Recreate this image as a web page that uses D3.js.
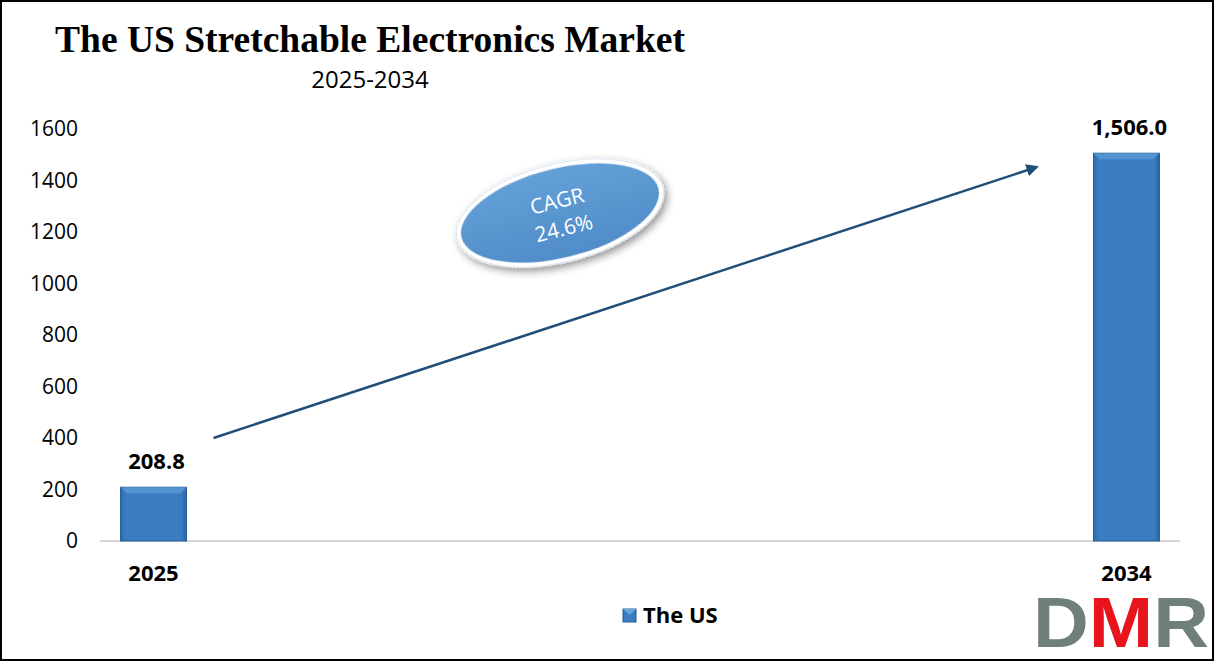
<!DOCTYPE html>
<html>
<head>
<meta charset="utf-8">
<script src="https://cdn.jsdelivr.net/npm/d3@7"></script>
<style>
  body { margin: 0; background: #fff; }
  svg { display: block; }
</style>
</head>
<body>
<svg id="svg" width="1216" height="663"></svg>
<script>
// data
const years = ['2025', '2034'];
const values = [208.8, 1506.0];
const valueLabels = ['208.8', '1,506.0'];
const yTicks = [0, 200, 400, 600, 800, 1000, 1200, 1400, 1600];
const seriesName = 'The US';
const cagrText = ['CAGR', '24.6%'];

const svg = d3.select('#svg');
const font = '"Open Sans", "Noto Sans", sans-serif';

const margin = { top: 129, left: 100, right: 36, bottom: 122 };
const width = 1216 - margin.left - margin.right;   // 1080
const height = 663 - margin.top - margin.bottom;   // 412

const x = d3.scalePoint().domain(years).range([0, width]).padding(0.055);
const y = d3.scaleLinear().domain([0, 1600]).range([height, 0]);
const barWidth = 66;

// defs: gradients, shadow, arrow
const defs = svg.append('defs');
const bg = defs.append('linearGradient').attr('id', 'barGrad').attr('x1', 0).attr('x2', 1).attr('y1', 0).attr('y2', 0);
bg.append('stop').attr('offset', '0%').attr('stop-color', '#2f6aa8');
bg.append('stop').attr('offset', '8%').attr('stop-color', '#3a7dc2');
bg.append('stop').attr('offset', '92%').attr('stop-color', '#3a7dc2');
bg.append('stop').attr('offset', '100%').attr('stop-color', '#2b629c');

const eg = defs.append('linearGradient').attr('id', 'ellGrad').attr('x1', 0).attr('x2', 0).attr('y1', 0).attr('y2', 1);
eg.append('stop').attr('offset', '0%').attr('stop-color', '#64a0d8');
eg.append('stop').attr('offset', '100%').attr('stop-color', '#4f8cc8');

const sh = defs.append('filter').attr('id', 'shadow').attr('x', '-30%').attr('y', '-30%').attr('width', '160%').attr('height', '160%');
sh.append('feGaussianBlur').attr('in', 'SourceAlpha').attr('stdDeviation', 4).attr('result', 'b');
sh.append('feOffset').attr('in', 'b').attr('dx', 2).attr('dy', 4).attr('result', 'o');
sh.append('feComponentTransfer').attr('in', 'o').attr('result', 'o2')
  .append('feFuncA').attr('type', 'linear').attr('slope', 0.45);
const mg = sh.append('feMerge');
mg.append('feMergeNode').attr('in', 'o2');
mg.append('feMergeNode').attr('in', 'SourceGraphic');

defs.append('marker').attr('id', 'arrow')
  .attr('viewBox', '0 0 10 10').attr('refX', 8).attr('refY', 5)
  .attr('markerWidth', 5).attr('markerHeight', 5).attr('orient', 'auto')
  .append('path').attr('d', 'M0,0 L10,5 L0,10 Z').attr('fill', '#1f4e79');

// title
svg.append('text').attr('x', 55).attr('y', 52)
  .attr('font-family', '"Liberation Serif", "Times New Roman", serif')
  .attr('font-weight', 'bold').attr('font-size', 38).attr('fill', '#000')
  .attr('textLength', 630).attr('lengthAdjust', 'spacingAndGlyphs')
  .text('The US Stretchable Electronics Market');
svg.append('text').attr('x', 370).attr('y', 88).attr('text-anchor', 'middle')
  .attr('font-family', font).attr('font-size', 24).attr('fill', '#000')
  .text('2025-2034');

const g = svg.append('g').attr('transform', `translate(${margin.left},${margin.top})`);

// y axis (no line, no ticks)
const yAxis = d3.axisLeft(y).tickValues(yTicks).tickSize(0).tickPadding(22).tickFormat(d3.format('d'));
g.append('g').call(yAxis)
  .call(a => a.select('.domain').remove())
  .call(a => a.selectAll('text').attr('font-family', font).attr('font-size', 21).attr('fill', '#000'));

// baseline
g.append('line').attr('x1', 0).attr('x2', width).attr('y1', y(0)).attr('y2', y(0))
  .attr('stroke', '#c8c8c8').attr('stroke-width', 1.5);

// bars
g.selectAll('rect.bar').data(values).enter().append('rect')
  .attr('class', 'bar')
  .attr('x', (d, i) => x(years[i]) - barWidth / 2)
  .attr('width', barWidth)
  .attr('y', d => y(d))
  .attr('height', d => y(0) - y(d))
  .attr('fill', 'url(#barGrad)')
  .attr('stroke', '#2a5f96').attr('stroke-width', 1);

// bar top bevel highlight
g.selectAll('path.bevel').data(values).enter().append('path')
  .attr('class', 'bevel')
  .attr('d', (d, i) => {
    const x0 = x(years[i]) - barWidth / 2, x1 = x0 + barWidth, y0 = y(d);
    return `M${x0},${y0} L${x1},${y0} L${x1 - 6},${y0 + 6} L${x0 + 6},${y0 + 6} Z`;
  })
  .attr('fill', '#5d9ad6').attr('opacity', 0.8);

// value labels
g.selectAll('text.val').data(values).enter().append('text')
  .attr('class', 'val')
  .attr('x', (d, i) => x(years[i]) + 3)
  .attr('y', d => y(d) - 18)
  .attr('text-anchor', 'middle')
  .attr('font-family', font).attr('font-weight', 'bold').attr('font-size', 22).attr('fill', '#000')
  .text((d, i) => valueLabels[i]);

// x labels
g.selectAll('text.xl').data(years).enter().append('text')
  .attr('class', 'xl')
  .attr('x', d => x(d)).attr('y', y(0) + 40)
  .attr('text-anchor', 'middle')
  .attr('font-family', font).attr('font-weight', 'bold').attr('font-size', 22).attr('fill', '#000')
  .text(d => d);

// CAGR arrow
g.append('line')
  .attr('x1', x(years[0]) + 60).attr('y1', y(400))
  .attr('x2', x(years[1]) - 90).attr('y2', y(1452))
  .attr('stroke', '#1f4e79').attr('stroke-width', 2.5)
  .attr('marker-end', 'url(#arrow)');

// CAGR ellipse
const cg = svg.append('g').attr('transform', 'translate(560,213) rotate(-14)');
cg.append('ellipse').attr('rx', 104).attr('ry', 47)
  .attr('fill', 'url(#ellGrad)').attr('stroke', '#fff').attr('stroke-width', 5)
  .attr('filter', 'url(#shadow)');
cg.append('ellipse').attr('rx', 106).attr('ry', 49)
  .attr('fill', 'none').attr('stroke', '#d9e6f2').attr('stroke-width', 1);
cg.selectAll('text').data(cagrText).enter().append('text')
  .attr('x', 0).attr('y', (d, i) => i === 0 ? -5 : 23)
  .attr('text-anchor', 'middle')
  .attr('font-family', font).attr('font-size', 21).attr('fill', '#fff')
  .text(d => d);

// legend
svg.append('rect').attr('x', 623).attr('y', 609).attr('width', 13).attr('height', 13)
  .attr('fill', 'url(#barGrad)').attr('stroke', '#2a5f96');
svg.append('path').attr('d', 'M623,609 L636,609 L629.5,615 Z').attr('fill', '#6aa5db');
svg.append('text').attr('x', 643).attr('y', 623)
  .attr('font-family', font).attr('font-weight', 'bold').attr('font-size', 22).attr('fill', '#000')
  .text(seriesName);

// DMR logo
const logo = svg.append('text').attr('x', 1033).attr('y', 647)
  .attr('font-family', '"Liberation Sans", Arial, sans-serif').attr('font-weight', 'bold')
  .attr('font-size', 70).attr('textLength', 176).attr('lengthAdjust', 'spacingAndGlyphs');
logo.append('tspan').attr('fill', '#6f7f7c').text('D');
logo.append('tspan').attr('fill', '#e8141b').text('M');
logo.append('tspan').attr('fill', '#6f7f7c').text('R');

// frame
svg.append('rect').attr('x', 1).attr('y', 1).attr('width', 1212).attr('height', 659)
  .attr('fill', 'none').attr('stroke', '#000').attr('stroke-width', 2);
</script>
</body>
</html>
